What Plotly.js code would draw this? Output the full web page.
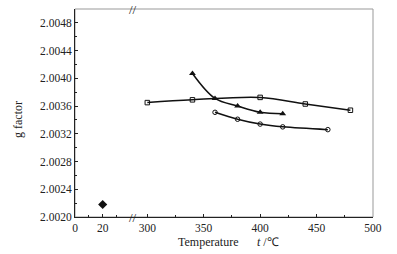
<!DOCTYPE html>
<html><head><meta charset="utf-8">
<script src="https://cdn.plot.ly/plotly-3.0.1.min.js"></script>
<style>html,body{margin:0;padding:0;background:#fff}</style>
</head><body><div id="c" style="width:397px;height:254px"></div>
<script>
// Data
const lowT = [20];
const lowG = [2.00218];
const sqT = [300, 340, 400, 440, 480];
const sqG = [2.00365, 2.00369, 2.003725, 2.00363, 2.00354];
const triT = [340, 360, 380, 400, 420];
const triG = [2.00407, 2.00371, 2.00360, 2.00351, 2.00349];
const cirT = [360, 380, 400, 420, 460];
const cirG = [2.00351, 2.00341, 2.00334, 2.00330, 2.00326];
const yTicks = [2.0020, 2.0024, 2.0028, 2.0032, 2.0036, 2.0040, 2.0044, 2.0048];
const xLowTicks = [0, 20];

const font = {family: 'Liberation Serif, Times New Roman, serif', size: 11.5, color: '#222'};
const lineStyle = {color: '#111', width: 1.5, shape: 'spline', smoothing: 1};

const traces = [
  {x: lowT, y: lowG, xaxis: 'x', yaxis: 'y', mode: 'markers',
   marker: {symbol: 'diamond', size: 7, color: '#111'}},
  {x: sqT, y: sqG, xaxis: 'x2', yaxis: 'y', mode: 'lines+markers', line: lineStyle,
   marker: {symbol: 'square-open', size: 4.5, color: '#111', line: {width: 1, color: '#111'}}},
  {x: triT, y: triG, xaxis: 'x2', yaxis: 'y', mode: 'lines+markers', line: lineStyle,
   marker: {symbol: 'triangle-up', size: 6, color: '#111'}},
  {x: cirT, y: cirG, xaxis: 'x2', yaxis: 'y', mode: 'lines+markers', line: lineStyle,
   marker: {symbol: 'circle-open', size: 4.5, color: '#111', line: {width: 1, color: '#111'}}}
];

const split = 0.1946;
const layout = {
  width: 397, height: 254,
  margin: {l: 75, r: 24, t: 9, b: 37},
  paper_bgcolor: '#fff', plot_bgcolor: '#fff',
  showlegend: false,
  font: font,
  xaxis: {domain: [0, split], range: [0, 41.9], anchor: 'y',
    tickvals: xLowTicks, ticktext: xLowTicks.map(String),
    ticks: 'inside', ticklen: 3, tickcolor: '#222',
    minor: {tickvals: [10, 30], ticks: 'inside', ticklen: 2, tickcolor: '#222'},
    showline: true, linecolor: '#222', linewidth: 1, showgrid: false, zeroline: false,
    tickfont: font},
  xaxis2: {domain: [split, 1], range: [287.3, 500.01], anchor: 'y',
    tick0: 300, dtick: 50,
    ticks: 'inside', ticklen: 3, tickcolor: '#222',
    minor: {dtick: 25, ticks: 'inside', ticklen: 2, tickcolor: '#222'},
    showline: true, linecolor: '#222', linewidth: 1, showgrid: false, zeroline: false,
    tickfont: font},
  yaxis: {range: [2.0020, 2.0050], anchor: 'x',
    tickvals: yTicks, ticktext: yTicks.map(v => v.toFixed(4)),
    ticks: 'inside', ticklen: 3, tickcolor: '#222',
    minor: {tick0: 2.0020, dtick: 0.0002, ticks: 'inside', ticklen: 2, tickcolor: '#222'},
    showline: true, linecolor: '#222', linewidth: 1, showgrid: false, zeroline: false,
    tickfont: font},
  shapes: [
    {type: 'rect', xref: 'paper', yref: 'paper', x0: 0, x1: 1, y0: 0, y1: 1,
     line: {color: '#999', width: 1}, layer: 'below'}
  ],
  annotations: [
    {xref: 'paper', yref: 'paper', x: split, y: 0, text: '//', showarrow: false,
     font: {family: font.family, size: 13, color: '#222'}, xanchor: 'center', yanchor: 'middle'},
    {xref: 'paper', yref: 'paper', x: split, y: 1, text: '//', showarrow: false,
     font: {family: font.family, size: 13, color: '#222'}, xanchor: 'center', yanchor: 'middle'},
    {xref: 'paper', yref: 'paper', x: (207.6 - 75) / 298, y: (216.7 - 242) / 207.4,
     text: 'Temperature', showarrow: false, font: {family: font.family, size: 12, color: '#222'},
     xanchor: 'center', yanchor: 'middle'},
    {xref: 'paper', yref: 'paper', x: (268 - 75) / 298, y: (216.7 - 242) / 207.4,
     text: '<i>t</i> /℃', showarrow: false, font: {family: font.family, size: 12, color: '#222'},
     xanchor: 'center', yanchor: 'middle'},
    {xref: 'paper', yref: 'paper', x: (18 - 75) / 298, y: (216.7 - 120) / 207.4,
     text: 'g factor', textangle: -90, showarrow: false,
     font: {family: font.family, size: 12, color: '#222'}, xanchor: 'center', yanchor: 'middle'}
  ]
};
Plotly.newPlot('c', traces, layout, {displayModeBar: false, staticPlot: true});
</script></body></html>
